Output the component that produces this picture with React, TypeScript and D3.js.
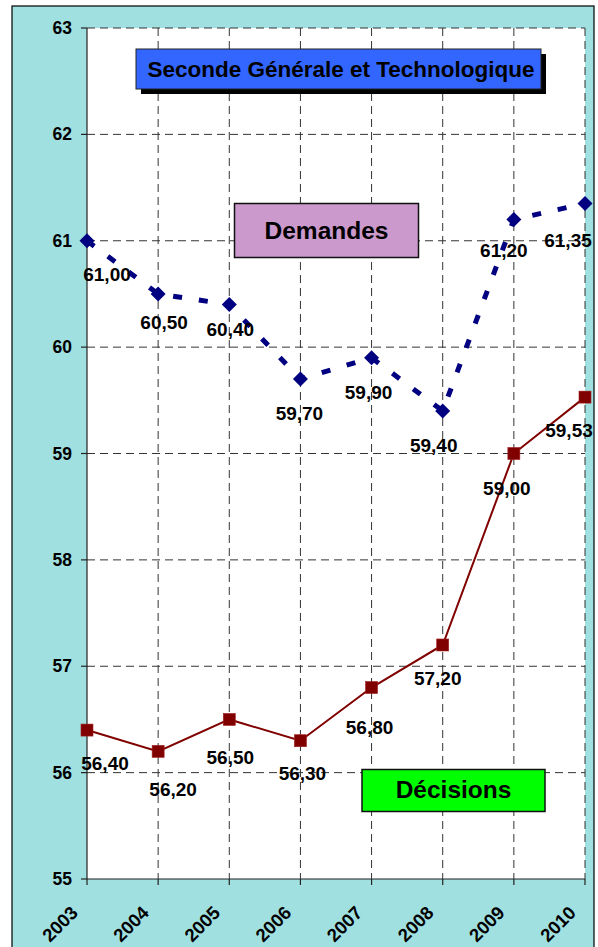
import React from "react";
import * as d3 from "d3";

const years = ["2003", "2004", "2005", "2006", "2007", "2008", "2009", "2010"];
const demandes = [61.0, 60.5, 60.4, 59.7, 59.9, 59.4, 61.2, 61.35];
const decisions = [56.4, 56.2, 56.5, 56.3, 56.8, 57.2, 59.0, 59.53];
const yTicks = [55, 56, 57, 58, 59, 60, 61, 62, 63];
const title = "Seconde Générale et Technologique";
const demLabel = "Demandes";
const decLabel = "Décisions";

// label nudges (dx, dy) relative to each point, as placed in the original
const demNudge: [number, number][] = [[20, 34], [6, 28], [1, 25], [-1, 34], [-3, 35], [-9, 34], [-10, 31], [-17, 37]];
const decNudge: [number, number][] = [[18, 33], [15, 38], [1, 38], [2, 33], [-2, 40], [-5, 33], [-7, 35], [-16, 33]];

const W = 598, H = 947;
const plot = { left: 87, right: 585, top: 28, bottom: 879 };
const FONT = "'Liberation Sans', Arial, sans-serif";

const fmt = (v: number) => v.toFixed(2).replace(".", ",");

export default function App() {
  const x = d3.scalePoint<string>().domain(years).range([plot.left, plot.right]);
  const y = d3.scaleLinear().domain([55, 63]).range([plot.bottom, plot.top]);

  const line = d3.line<number>().x((_, i) => x(years[i])!).y((d) => y(d));

  const grid = "#333";
  const dash = "8,5";

  return (
    <svg width={W} height={H} style={{ position: "absolute", left: 0, top: 0 }} fontFamily={FONT}>
      <rect x={12} y={6} width={582} height={960} fill="#A1E0E0" stroke="#000" strokeWidth={1.2} />
      <rect x={plot.left} y={plot.top} width={plot.right - plot.left} height={plot.bottom - plot.top} fill="#fff" />

      {/* horizontal grid */}
      {yTicks.filter((t) => t > 55).map((t) => (
        <line key={"hg" + t} x1={plot.left} x2={plot.right} y1={y(t)} y2={y(t)} stroke={grid} strokeDasharray={dash} strokeWidth={1} />
      ))}
      {/* vertical grid */}
      {years.slice(1).map((yr) => (
        <line key={"vg" + yr} x1={x(yr)} x2={x(yr)} y1={plot.top} y2={plot.bottom} stroke={grid} strokeDasharray={dash} strokeWidth={1} />
      ))}

      {/* axes */}
      <line x1={plot.left} x2={plot.left} y1={plot.top} y2={plot.bottom} stroke="#222" strokeWidth={1.2} />
      <line x1={plot.left} x2={plot.right} y1={plot.bottom} y2={plot.bottom} stroke="#222" strokeWidth={1.2} />
      {yTicks.map((t) => (
        <g key={"yt" + t}>
          <line x1={plot.left - 6} x2={plot.left} y1={y(t)} y2={y(t)} stroke="#222" strokeWidth={1.2} />
          <text x={72} y={y(t) + 6} textAnchor="end" fontSize={17.5} fontWeight="bold" fill="#000">{t}</text>
        </g>
      ))}
      {years.map((yr) => (
        <g key={"xt" + yr}>
          <line x1={x(yr)} x2={x(yr)} y1={plot.bottom} y2={plot.bottom + 6} stroke="#222" strokeWidth={1.2} />
          <text
            transform={`translate(${x(yr)! - 8},${914}) rotate(-45)`}
            textAnchor="end"
            fontSize={18.5}
            fontWeight="bold"
            fill="#000"
          >
            {yr}
          </text>
        </g>
      ))}

      {/* Title box */}
      <rect x={141} y={54} width={405} height={40} fill="#000" />
      <rect x={136} y={49} width={405} height={40} fill="#3366FF" stroke="#222" strokeWidth={1} />
      <text x={341} y={76.5} textAnchor="middle" fontSize={22.5} fontWeight="bold" fill="#000">{title}</text>

      {/* Demandes box */}
      <rect x={234.5} y={203.5} width={184} height={54} fill="#CC99CC" stroke="#111" strokeWidth={1.5} />
      <text x={326.5} y={239} textAnchor="middle" fontSize={24.5} fontWeight="bold" fill="#000">{demLabel}</text>

      {/* Décisions box */}
      <rect x={362} y={769.5} width={183} height={42} fill="#00FF00" stroke="#111" strokeWidth={1.5} />
      <text x={453.5} y={798} textAnchor="middle" fontSize={24.5} fontWeight="bold" fill="#000">{decLabel}</text>

      {/* Décisions series */}
      <path d={line(decisions)!} fill="none" stroke="#800000" strokeWidth={2} />
      {decisions.map((v, i) => (
        <rect key={"ds" + i} x={x(years[i])! - 6} y={y(v) - 6} width={12} height={12} fill="#800000" stroke="#A02020" strokeWidth={0.6} />
      ))}

      {/* Demandes series */}
      <path d={line(demandes)!} fill="none" stroke="#000080" strokeWidth={5} strokeDasharray="9,17" />
      {demandes.map((v, i) => {
        const cx = x(years[i])!, cy = y(v), r = 7.5;
        return <path key={"dm" + i} d={`M${cx},${cy - r}L${cx + r},${cy}L${cx},${cy + r}L${cx - r},${cy}Z`} fill="#000080" />;
      })}

      {/* data labels */}
      {demandes.map((v, i) => (
        <text key={"dl" + i} x={x(years[i])! + demNudge[i][0]} y={y(v) + demNudge[i][1] + 6.7} textAnchor="middle" fontSize={19} fontWeight="bold" fill="#000">
          {fmt(v)}
        </text>
      ))}
      {decisions.map((v, i) => (
        <text key={"cl" + i} x={x(years[i])! + decNudge[i][0]} y={y(v) + decNudge[i][1] + 6.7} textAnchor="middle" fontSize={19} fontWeight="bold" fill="#000">
          {fmt(v)}
        </text>
      ))}
    </svg>
  );
}
